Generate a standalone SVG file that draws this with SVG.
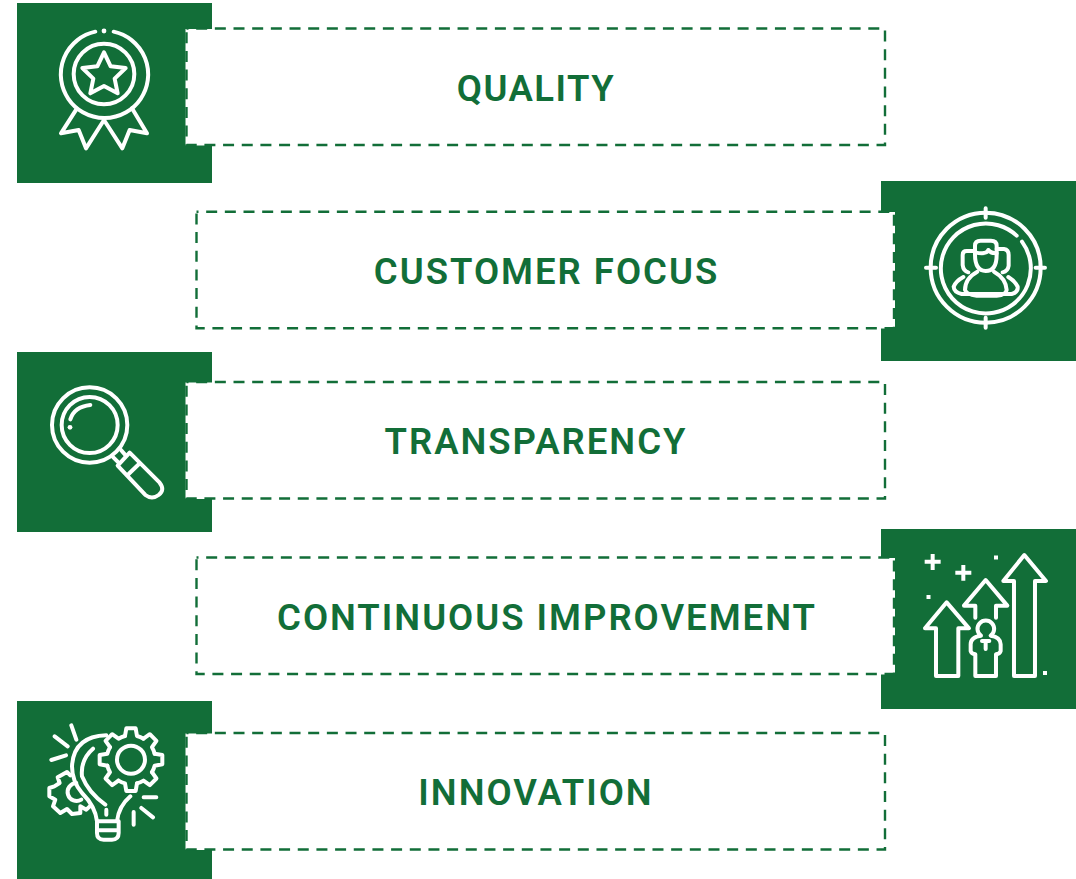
<svg xmlns="http://www.w3.org/2000/svg" xmlns:xlink="http://www.w3.org/1999/xlink" width="1076" height="879" viewBox="0 0 1076 879">
<style>
.sq{fill:#126e38}
.bg{fill:#fff}
.box{fill:none;stroke:#126e38;stroke-width:2.4;stroke-dasharray:11 7.67;stroke-dashoffset:9}
.ic{fill:none;stroke:#fff;stroke-width:12;stroke-linecap:round;stroke-linejoin:round}
.dot{fill:#fff}
text{font-family:Roboto,"Liberation Sans",sans-serif;font-weight:600;font-size:36.5px;letter-spacing:2px;fill:#126e38;text-anchor:middle}
</style>
<defs>
<path id="tooth" d="M-18,-71 L-14,-94 H14 L18,-71 A73,73 0 0 1 37.5,-62.9"/>
</defs>
<g id="node-quality">
<rect class="sq" x="17" y="3" width="195" height="180"/>
<rect class="bg" x="185.5" y="29" width="699.5" height="116.5"/>
<rect class="box" x="186.5" y="28.5" width="698.5" height="116.5"/>
<g class="ic" transform="translate(17 0) scale(.3333)">
<path d="M235,95 A131,131 0 1 0 290,95"/>
<circle cx="261" cy="222" r="91"/>
<path d="M261,157 L281,199 L326,204 L293,236 L302,280 L261,258 L220,280 L229,236 L196,204 L241,199 Z"/>
<path d="M178,328 L132,400 L185,390 L207,445 L261,360 L316,445 L338,390 L390,400 L345,325"/>
</g>
<circle class="dot" cx="104" cy="31" r="2.4"/>
<text x="536" y="101" style="letter-spacing:1.5px">QUALITY</text>
</g>
<g id="node-customer-focus">
<rect class="sq" x="881" y="181" width="195" height="180"/>
<rect class="bg" x="197" y="212" width="698" height="116.5"/>
<rect class="box" x="196.5" y="211.7" width="697.5" height="116.5"/>
<g class="ic" transform="translate(870 175) scale(.3333)">
<circle cx="347" cy="278" r="165"/>
<path d="M440,182 A135,135 0 1 0 456,200"/>
<path d="M347,100 V128 M347,428 V458 M168,278 H198 M497,278 H525"/>
<path d="M315,238 V212 Q315,197 332,197 H363 Q380,197 380,212 V240 Q380,288 347,288 Q315,288 315,238 Z"/>
<path d="M315,232 Q350,240 355,225 Q362,235 380,235"/>
<path d="M312,228 H290 Q278,228 278,240 V270 Q280,288 295,292"/>
<path d="M380,222 H402 Q416,224 416,240 V272 Q414,288 398,292"/>
<path d="M280,306 Q258,318 251,335 Q252,352 275,357 H425 Q445,352 443,335 Q435,318 415,306"/>
<path d="M322,290 Q285,310 285,345 Q290,360 320,362 H380 Q408,360 410,345 Q408,310 372,290"/>
</g>
<text x="546.5" y="284">CUSTOMER FOCUS</text>
</g>
<g id="node-transparency">
<rect class="sq" x="17" y="352" width="195" height="180"/>
<rect class="bg" x="185.5" y="382.5" width="699.5" height="116.5"/>
<rect class="box" x="186.5" y="382" width="698.5" height="116.5"/>
<g class="ic" transform="translate(17 350) scale(.3333)">
<circle cx="218" cy="225" r="113"/>
<circle cx="218" cy="225" r="84"/>
<path d="M160,208 Q172,170 220,165"/>
<path d="M338,308 L428,398 Q445,420 425,435 Q405,450 385,435 L302,347 Z M366,342 L335,372"/>
<path d="M312,300 L326,316 M289,322 L304,337"/>
</g>
<circle class="dot" cx="70" cy="427.3" r="2.4"/>
<text x="536" y="454">TRANSPARENCY</text>
</g>
<g id="node-continuous-improvement">
<rect class="sq" x="881" y="529" width="195" height="180"/>
<rect class="bg" x="197" y="558" width="698" height="116.5"/>
<rect class="box" x="196.5" y="557.5" width="697.5" height="116.5"/>
<g class="ic" transform="translate(870 525) scale(.3333)">
<path d="M230,232 L297,310 H265 V453 H198 V310 H165 Z"/>
<path d="M316,278 V242 H282 L347,165 L412,242 H378 V278"/>
<path d="M463,90 L528,168 H495 V453 H432 V168 H400 Z"/>
<path d="M333,332 A25,25 0 1 1 362,332 Q392,336 392,358 V378 Q390,386 378,388 V453 H316 V388 Q304,386 302,378 V358 Q302,336 333,332 Z"/>
<path d="M336,348 H358 M347,348 V372"/>
<path stroke-width="12" stroke-linecap="butt" d="M164,110 H212 M188,87 V135 M256,143 H304 M280,120 V167"/>
</g>
<rect class="dot" x="994" y="555.5" width="4" height="4"/>
<rect class="dot" x="926.5" y="595" width="4" height="4"/>
<rect class="dot" x="1043" y="671" width="4" height="4"/>
<text x="547" y="630">CONTINUOUS IMPROVEMENT</text>
</g>
<g id="node-innovation">
<rect class="sq" x="17" y="701" width="195" height="178"/>
<rect class="bg" x="185.5" y="733.5" width="699.5" height="116.5"/>
<rect class="box" x="186.5" y="733" width="698.5" height="116.5"/>
<g class="ic" transform="translate(17 698) scale(.3333)">
<path d="M163,82 L178,125 M113,115 L152,145 M103,186 L147,172 M380,298 H418 M373,330 L408,358 M350,342 V380"/>
<path d="M268,112 Q170,115 165,205 Q165,250 195,285 Q235,325 240,370 H300 Q305,325 340,295"/>
<path d="M240,370 V405 Q240,425 260,425 H285 Q305,425 305,405 V370 M240,397 H305"/>
<path d="M228,152 Q190,185 195,235 Q215,285 265,320 M268,335 V350"/>
<circle cx="342" cy="185" r="42"/>
<g transform="translate(342 185)">
<use xlink:href="#tooth" href="#tooth"/>
<use xlink:href="#tooth" href="#tooth" transform="rotate(45)"/>
<use xlink:href="#tooth" href="#tooth" transform="rotate(90)"/>
<use xlink:href="#tooth" href="#tooth" transform="rotate(135)"/>
<use xlink:href="#tooth" href="#tooth" transform="rotate(180)"/>
<use xlink:href="#tooth" href="#tooth" transform="rotate(225)"/>
<use xlink:href="#tooth" href="#tooth" transform="rotate(270)"/>
<use xlink:href="#tooth" href="#tooth" transform="rotate(315)"/>
</g>
<path d="M160,232 L150,222 L122,238 L128,255 L112,265 L97,270 L97,295 L115,305 L108,325 L130,345 L150,333 L165,348 L190,345 L190,325 L208,335 L222,322"/>
<path d="M178,255 A27,27 0 1 0 193,305"/>
</g>
<text x="536" y="805">INNOVATION</text>
</g>
</svg>
